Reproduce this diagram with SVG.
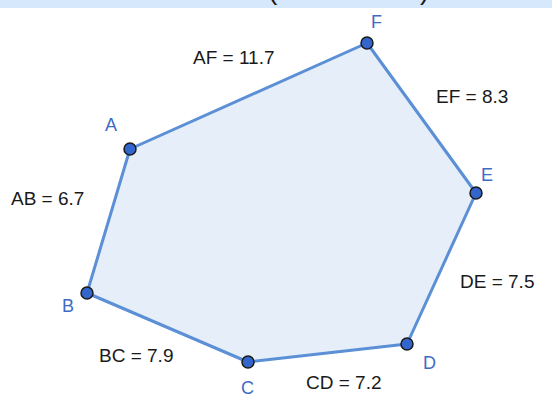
<svg xmlns="http://www.w3.org/2000/svg" width="552" height="403" viewBox="0 0 552 403">
<style>
.m{font-family:"Liberation Sans",Arial,sans-serif;font-size:19px;fill:#1a1a1a}
.v{font-family:"Liberation Sans",Arial,sans-serif;font-size:18px;fill:#3d6cc4}
.pt{fill:#3366cc;stroke:#1a1a1a;stroke-width:1.5}
.edge{stroke:#5b8fd6;stroke-width:3;fill:none;stroke-linecap:round}
</style>
<rect x="0" y="0" width="552" height="8" fill="#d5e8fc"/>
<text x="268" y="-1" font-family="Liberation Sans,Arial,sans-serif" font-size="28" fill="#1a1a1a">(</text>
<text x="420" y="-1" font-family="Liberation Sans,Arial,sans-serif" font-size="28" fill="#1a1a1a">)</text>
<polygon points="130,149 87,293 248,362 407,344 476,193 367,43" fill="#e6eef9" stroke="none"/>
<g id="connectors">
<line class="edge" x1="130" y1="149" x2="87" y2="293"/>
<line class="edge" x1="87" y1="293" x2="248" y2="362"/>
<line class="edge" x1="248" y1="362" x2="407" y2="344"/>
<line class="edge" x1="407" y1="344" x2="476" y2="193"/>
<line class="edge" x1="476" y1="193" x2="367" y2="43"/>
<line class="edge" x1="367" y1="43" x2="130" y2="149"/>
</g>
<g id="A"><circle class="pt" cx="130" cy="149" r="6"/><text class="v" x="105" y="131">A</text></g>
<g id="B"><circle class="pt" cx="87" cy="293" r="6"/><text class="v" x="62" y="312">B</text></g>
<g id="C"><circle class="pt" cx="248" cy="362" r="6"/><text class="v" x="241" y="394">C</text></g>
<g id="D"><circle class="pt" cx="407" cy="344" r="6"/><text class="v" x="423" y="369">D</text></g>
<g id="E"><circle class="pt" cx="476" cy="193" r="6"/><text class="v" x="481" y="181">E</text></g>
<g id="F"><circle class="pt" cx="367" cy="43" r="6"/><text class="v" x="371" y="28">F</text></g>
<g id="labels">
<text class="m" x="193" y="64">AF = 11.7</text>
<text class="m" x="436" y="103">EF = 8.3</text>
<text class="m" x="11" y="205">AB = 6.7</text>
<text class="m" x="460" y="288">DE = 7.5</text>
<text class="m" x="99" y="362">BC = 7.9</text>
<text class="m" x="306" y="389">CD = 7.2</text>
</g>
</svg>
